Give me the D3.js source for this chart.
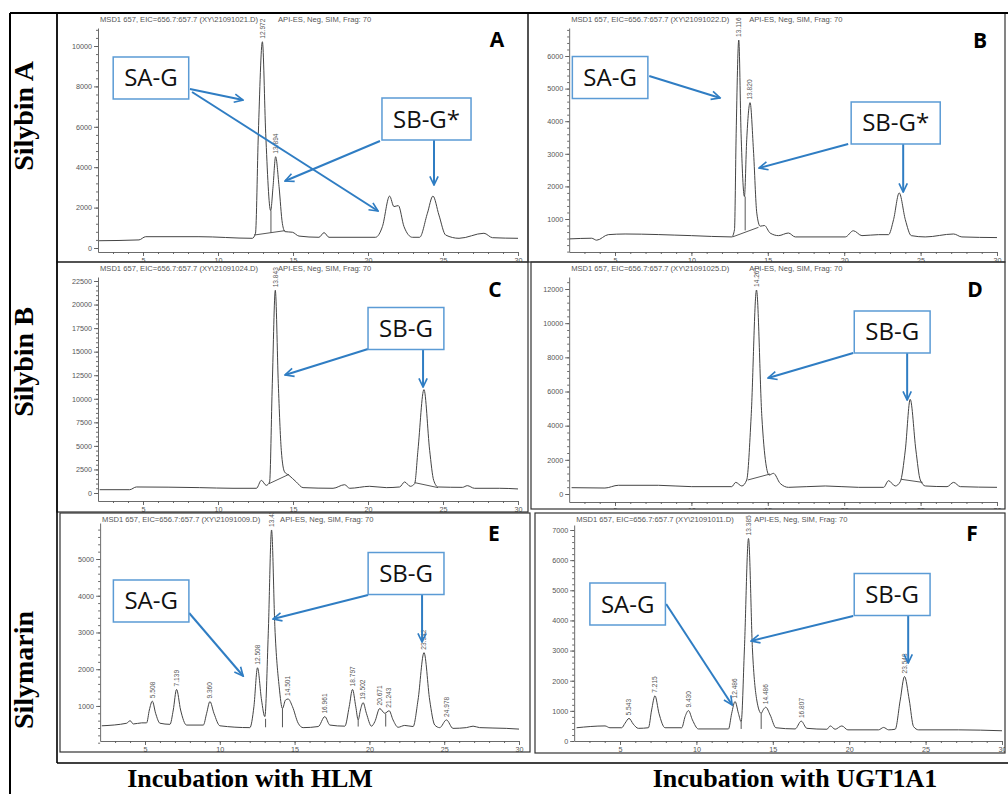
<!DOCTYPE html>
<meta charset="utf-8">
<script src="https://d3js.org/d3.v7.min.js"></script>
<style>
  body { margin: 0; background: #fff; }
</style>
<div id="chart"></div>
<script>

// ---------- data ----------
var xTicks = [5, 10, 15, 20, 25, 30];
var fileIds = ["21091021", "21091022", "21091024", "21091025", "21091009", "21091011"];
var panelLetters = ["A", "B", "C", "D", "E", "F"];
var rowLabels = ["Silybin A", "Silybin B", "Silymarin"];
var colLabels = ["Incubation with HLM", "Incubation with UGT1A1"];

var yTicksA = [0, 2000, 4000, 6000, 8000, 10000];
var yTicksB = [1000, 2000, 3000, 4000, 5000, 6000];
var yTicksC = [0, 2500, 5000, 7500, 10000, 12500, 15000, 17500, 20000, 22500];
var yTicksD = [0, 2000, 4000, 6000, 8000, 10000, 12000];
var yTicksE = [1000, 2000, 3000, 4000, 5000];
var yTicksF = [0, 1000, 2000, 3000, 4000, 5000, 6000, 7000];

// [retention time (min), abundance]
var traceA = [[2.07,360],[4.73,400],[5.18,560],[8.73,560],[12.29,480],[12.5,730],[12.69,5680],[12.96,10210],[13.18,5680],[13.51,1850],[13.67,3040],[13.84,4520],[14.07,3040],[14.29,1220],[14.47,810],[14.96,780],[15.4,590],[16.73,530],[17.07,760],[17.4,530],[20.5,530],[20.96,1060],[21.44,2570],[21.73,2050],[22.02,2100],[22.4,1060],[22.96,530],[23.44,530],[23.96,1720],[24.33,2570],[24.73,1630],[25.18,640],[26.07,480],[27.73,730],[28.3,510],[30,480]];
var traceB = [[2.05,390],[3.47,410],[3.8,350],[4.56,520],[5.66,540],[10,490],[12.64,450],[12.82,670],[12.93,3630],[13.1,6490],[13.25,3630],[13.47,1690],[13.62,3430],[13.84,4570],[14.06,3120],[14.28,1180],[14.5,780],[14.78,800],[15.15,570],[15.7,490],[16.35,570],[16.8,450],[20.07,450],[20.6,640],[21.16,490],[22.25,520],[22.9,520],[23.23,980],[23.6,1800],[24,980],[24.39,490],[25.3,450],[27.16,540],[27.7,450],[30,430]];
var traceC = [[2.11,350],[4.11,350],[4.56,640],[8.78,570],[11,500],[12.56,500],[12.89,1340],[13.22,810],[13.44,1170],[13.62,11600],[13.82,21510],[14.02,11600],[14.22,4530],[14.44,2230],[14.73,1880],[15.22,1170],[15.67,570],[17.67,500],[18.44,880],[18.78,500],[20.11,710],[21.22,570],[22.11,640],[22.44,1170],[22.82,710],[23.11,990],[23.33,4530],[23.73,10970],[24.11,4530],[24.38,1340],[24.67,640],[26.3,600],[26.62,780],[27.1,500],[28.78,500],[30,430]];
var traceD = [[2.16,370],[4.34,350],[5.22,510],[7.84,510],[10.02,430],[12.64,430],[12.9,680],[13.3,470],[13.62,820],[13.91,4530],[14.26,11940],[14.61,4530],[14.87,1800],[15.09,1110],[15.37,1210],[15.81,620],[16.35,390],[18.76,470],[20.94,390],[22.58,390],[22.9,780],[23.34,470],[23.67,720],[24,2580],[24.32,5540],[24.69,2580],[24.98,820],[25.31,470],[26.73,430],[27.16,680],[27.6,430],[30,390]];
var traceE = [[2.11,460],[3.78,530],[4,600],[4.22,510],[4.78,540],[5.11,540],[5.29,890],[5.49,1130],[5.71,800],[6,530],[6.67,500],[6.89,890],[7.11,1450],[7.38,890],[7.78,480],[8.9,480],[9.12,800],[9.34,1120],[9.61,800],[10.01,460],[12.01,410],[12.28,980],[12.52,2040],[12.79,1160],[13.01,710],[13.24,2980],[13.46,5790],[13.68,3160],[13.97,1520],[14.19,930],[14.39,1160],[14.57,1190],[14.86,980],[15.24,530],[15.57,410],[16.58,440],[17.02,710],[17.36,480],[18.36,450],[18.65,980],[18.87,1450],[19.09,980],[19.25,620],[19.4,890],[19.58,1090],[19.8,800],[20.14,450],[20.36,570],[20.69,930],[21.03,800],[21.32,870],[21.58,620],[21.92,420],[22.36,470],[22.92,440],[23.25,1160],[23.65,2450],[24.03,1160],[24.37,480],[24.7,410],[25.15,620],[25.59,390],[26.48,410],[26.93,450],[27.37,410],[29.15,390],[30,370]];
var traceF = [[2.16,440],[4.02,500],[4.34,440],[5.11,440],[5.33,590],[5.59,750],[5.87,560],[6.2,420],[6.86,440],[7.07,1030],[7.29,1500],[7.55,920],[7.95,440],[9.04,440],[9.26,810],[9.48,1010],[9.74,700],[10.13,400],[12.1,400],[12.31,920],[12.53,1310],[12.75,920],[12.93,640],[13.14,3020],[13.41,6720],[13.67,3020],[13.95,1360],[14.24,920],[14.39,1050],[14.54,1120],[14.83,860],[15.2,440],[16.46,400],[16.86,660],[17.23,420],[18.54,390],[18.76,500],[19.08,390],[19.52,500],[19.91,370],[21.92,370],[22.25,450],[22.58,370],[23.01,390],[23.34,1360],[23.62,2140],[23.93,1360],[24.21,480],[24.54,370],[27.16,370],[30,340]];

// peak labels: [time, apex abundance, label]
var peaksA = [[12.96,10210,"12.972"],[13.84,4520,"13.894"]];
var peaksB = [[13.1,6490,"13.116"],[13.84,4570,"13.820"]];
var peaksC = [[13.82,21510,"13.843"]];
var peaksD = [[14.26,11940,"14.261"]];
var peaksE = [[5.49,1130,"5.508"],[7.11,1450,"7.139"],[9.34,1120,"9.360"],[12.52,2040,"12.508"],[13.46,5790,"13.436"],[14.57,1190,"14.501"],[17.02,710,"16.961"],[18.87,1450,"18.797"],[19.58,1090,"19.502"],[20.69,930,"20.671"],[21.32,870,"21.243"],[23.65,2450,"23.542"],[25.15,620,"24.978"]];
var peaksF = [[5.59,750,"5.543"],[7.29,1500,"7.215"],[9.48,1010,"9.430"],[12.53,1310,"12.486"],[13.41,6720,"13.385"],[14.54,1120,"14.486"],[16.86,660,"16.807"],[23.62,2140,"23.548"]];

// integration marks: drops [t, top, bottom], baselines [t1, v1, t2, v2]
var dropsA = [[13.53,1850,760]];
var basesA = [[12.4,640,14.47,860]];
var dropsB = [[13.52,1690,650]];
var basesB = [[12.69,450,14.39,745]];
var dropsC = [];
var basesC = [[13.4,990,14.73,1980],[23.11,1100,24.67,570]];
var dropsD = [];
var basesD = [[13.69,820,15.15,1170],[23.73,860,25.13,680]];
var dropsE = [[13.06,650,420],[14.19,930,420],[19.25,620,440],[21.09,790,440]];
var basesE = [];
var dropsF = [[12.93,640,400],[14.24,920,400]];
var basesF = [];

// ---------- annotations (in data coordinates of each panel) ----------
var calloutsA = [["SA-G",5.53,8416],["SB-G*",23.9,6386]];
var arrowsA = [[8.13,7871,11.67,7327],[8.27,7723,20.67,1832],[20.8,5297,14.47,3317],[24.4,5347,24.4,3119]];
var calloutsB = [["SA-G",4.68,5340],["SB-G*",23.37,3945]];
var arrowsB = [[7.24,5387,11.88,4712],[20.26,3301,14.43,2564],[23.86,3301,23.86,1828]];
var calloutsC = [["SB-G",22.53,17459]];
var arrowsC = [[20.0,15283,14.47,12524],[23.67,15177,23.67,11250]];
var calloutsD = [["SB-G",23.14,9483]];
var arrowsD = [[20.59,8254,15.02,6790],[24.12,8254,24.12,5503]];
var calloutsE = [["SA-G",5.41,3857],["SB-G",22.45,4605]];
var arrowsE = [[7.95,3530,11.56,1815],[19.91,4020,13.56,3367],[23.52,4020,23.52,2741]];
var calloutsF = [["SA-G",5.5,4545],["SB-G",22.81,4860]];
var arrowsF = [[8.02,4545,12.34,1194],[20.26,4147,13.58,3318],[23.86,4147,23.86,2588]];

// ---------- layout ----------
var width = 1008, height = 794;
var blue = "#2f7dc3", boxBlue = "#5b9bd5", ink = "#444", axisGrey = "#5a5a5a";
var sans = "'Liberation Sans', Arial, sans-serif";
var office = "'Open Sans', 'Noto Sans', sans-serif";
var serif = "'Liberation Serif', 'Times New Roman', serif";

// frame [x0,y0,x1,y1], pixel pos of t=5 and t=30, pixel of 0 and top tick, axis line y, axis top y
var panels = [
  {trace: traceA, yTicks: yTicksA, peaks: peaksA, drops: dropsA, bases: basesA, callouts: calloutsA, arrows: arrowsA,
   frame: [57,13,528,262], xPx: [143,518], yPx: [248,46], axisY: 252, yTop: 28, minor: 400, letter: [497,47]},
  {trace: traceB, yTicks: yTicksB, peaks: peaksB, drops: dropsB, bases: basesB, callouts: calloutsB, arrows: arrowsB,
   frame: [528,13,1005,262], xPx: [615,997], yPx: [251.6,56], axisY: 252, yTop: 28, minor: 200, letter: [980,48]},
  {trace: traceC, yTicks: yTicksC, peaks: peaksC, drops: dropsC, bases: basesC, callouts: calloutsC, arrows: arrowsC,
   frame: [57,262,528,512], xPx: [143,518], yPx: [493,281], axisY: 501, yTop: 277, minor: 500, letter: [495,297]},
  {trace: traceD, yTicks: yTicksD, peaks: peaksD, drops: dropsD, bases: basesD, callouts: calloutsD, arrows: arrowsD,
   frame: [531,262,1005,509], xPx: [615,997], yPx: [494,289], axisY: 502, yTop: 277, minor: 400, letter: [975,297]},
  {trace: traceE, yTicks: yTicksE, peaks: peaksE, drops: dropsE, bases: basesE, callouts: calloutsE, arrows: arrowsE,
   frame: [60,513,530,752], xPx: [145,519], yPx: [742.7,559], axisY: 741, yTop: 523, minor: 200, letter: [494,541]},
  {trace: traceF, yTicks: yTicksF, peaks: peaksF, drops: dropsF, bases: basesF, callouts: calloutsF, arrows: arrowsF,
   frame: [535,513,1005,753], xPx: [620,1002], yPx: [741,530], axisY: 741, yTop: 525, minor: 200, letter: [972,541]}
];
var refTop = [10000, 6000, 22500, 12000, 5000, 7000];

var svg = d3.select("#chart")
  .append("svg")
  .attr("width", width)
  .attr("height", height);

var defs = svg.append("defs");
defs.append("marker")
  .attr("id", "head")
  .attr("viewBox", "0 0 12 12")
  .attr("refX", 10.5).attr("refY", 6)
  .attr("markerWidth", 11).attr("markerHeight", 11)
  .attr("markerUnits", "userSpaceOnUse")
  .attr("orient", "auto")
  .append("path")
  .attr("d", "M1,1.5 L10.5,6 L1,10.5")
  .attr("fill", "none")
  .attr("stroke", blue)
  .attr("stroke-width", 1.8);

panels.forEach(function(p, i) {
  var f = p.frame;
  var x = d3.scaleLinear().domain([5, 30]).range(p.xPx);
  var y = d3.scaleLinear().domain([0, refTop[i]]).range(p.yPx);
  var xAx = x.copy().domain([2, 30]).range([x(2), x(30)]);
  var yAx = y.copy().domain([y.invert(p.axisY), y.invert(p.yTop)]).range([p.axisY, p.yTop]);

  defs.append("clipPath").attr("id", "clip" + i)
    .append("rect")
    .attr("x", f[0]).attr("y", f[1])
    .attr("width", f[2] - f[0]).attr("height", f[3] - f[1]);

  var g = svg.append("g").attr("clip-path", "url(#clip" + i + ")");

  // header line of the instrument printout
  g.append("text")
    .attr("x", x(2) + 2).attr("y", f[1] + 8.5)
    .attr("font-family", sans).attr("font-size", 7.6).attr("fill", "#555")
    .text("MSD1 657, EIC=656.7:657.7 (XY\\" + fileIds[i] + ".D)");
  g.append("text")
    .attr("x", x(2) + 180).attr("y", f[1] + 8.5)
    .attr("font-family", sans).attr("font-size", 7.6).attr("fill", "#555")
    .text("API-ES, Neg, SIM, Frag: 70");

  // axes
  g.append("g")
    .attr("transform", "translate(" + x(2) + ",0)")
    .call(d3.axisLeft(yAx).tickValues(p.yTicks).tickSize(4).tickSizeOuter(0).tickPadding(2).tickFormat(d3.format("d")));
  g.append("g")
    .attr("transform", "translate(" + x(2) + ",0)")
    .call(d3.axisLeft(yAx).tickValues(d3.range(0, yAx.domain()[1], p.minor)).tickSize(2).tickSizeOuter(0).tickFormat(""))
    .select(".domain").remove();
  g.append("g")
    .attr("transform", "translate(0," + p.axisY + ")")
    .call(d3.axisBottom(xAx).tickValues(xTicks).tickSize(4).tickSizeOuter(0).tickPadding(2));
  g.append("g")
    .attr("transform", "translate(0," + p.axisY + ")")
    .call(d3.axisBottom(xAx).tickValues(d3.range(3, 30, 1)).tickSize(2).tickSizeOuter(0).tickFormat(""))
    .select(".domain").remove();
  g.selectAll(".domain, .tick line").attr("stroke", axisGrey).attr("stroke-width", 0.9);
  g.selectAll(".tick text").attr("fill", "#555").attr("font-family", sans).attr("font-size", 7.2);

  // integration marks
  g.selectAll(".drop").data(p.drops).enter().append("line")
    .attr("x1", function(d) { return x(d[0]); }).attr("x2", function(d) { return x(d[0]); })
    .attr("y1", function(d) { return y(d[1]); }).attr("y2", function(d) { return y(d[2]); })
    .attr("stroke", ink).attr("stroke-width", 0.9);
  g.selectAll(".base").data(p.bases).enter().append("line")
    .attr("x1", function(d) { return x(d[0]); }).attr("y1", function(d) { return y(d[1]); })
    .attr("x2", function(d) { return x(d[2]); }).attr("y2", function(d) { return y(d[3]); })
    .attr("stroke", ink).attr("stroke-width", 0.9);

  // chromatogram
  g.append("path")
    .datum(p.trace)
    .attr("fill", "none")
    .attr("stroke", ink)
    .attr("stroke-width", 1)
    .attr("d", d3.line()
      .x(function(d) { return x(d[0]); })
      .y(function(d) { return y(d[1]); })
      .curve(d3.curveMonotoneX));

  // retention-time labels
  g.selectAll(".peak").data(p.peaks).enter().append("text")
    .attr("transform", function(d) { return "translate(" + (x(d[0]) + 2.3) + "," + (y(d[1]) - 3) + ") rotate(-90)"; })
    .attr("font-family", sans).attr("font-size", 6.6).attr("fill", "#555")
    .text(function(d) { return d[2]; });

  // frame
  svg.append("rect")
    .attr("x", f[0]).attr("y", f[1])
    .attr("width", f[2] - f[0]).attr("height", f[3] - f[1])
    .attr("fill", "none").attr("stroke", "#333").attr("stroke-width", 1.2);

  // callouts
  var a = svg.append("g");
  a.selectAll(".arrow").data(p.arrows).enter().append("line")
    .attr("x1", function(d) { return x(d[0]); }).attr("y1", function(d) { return y(d[1]); })
    .attr("x2", function(d) { return x(d[2]); }).attr("y2", function(d) { return y(d[3]); })
    .attr("stroke", blue).attr("stroke-width", 2)
    .attr("marker-end", "url(#head)");

  p.callouts.forEach(function(c) {
    var cx = x(c[1]), cy = y(c[2]);
    var box = a.append("rect");
    var t = a.append("text")
      .attr("x", cx).attr("y", cy + 8.5)
      .attr("text-anchor", "middle")
      .attr("font-family", office).attr("font-size", 24).attr("fill", "#111")
      .text(c[0]);
    var w = t.node().getComputedTextLength() + 22;
    box.attr("x", cx - w / 2).attr("y", cy - 21)
      .attr("width", w).attr("height", 42)
      .attr("fill", "#fff").attr("stroke", boxBlue).attr("stroke-width", 1.5);
  });

  svg.append("text")
    .attr("x", p.letter[0]).attr("y", p.letter[1])
    .attr("text-anchor", "middle")
    .attr("font-family", office).attr("font-weight", "bold").attr("font-size", 21).attr("fill", "#000")
    .text(panelLetters[i]);
});

// figure border lines
svg.append("line").attr("x1", 10).attr("y1", 13).attr("x2", 1008).attr("y2", 13).attr("stroke", "#000").attr("stroke-width", 2);
svg.append("line").attr("x1", 10).attr("y1", 13).attr("x2", 10).attr("y2", 794).attr("stroke", "#000").attr("stroke-width", 2);
svg.append("line").attr("x1", 57).attr("y1", 13).attr("x2", 57).attr("y2", 763).attr("stroke", "#000").attr("stroke-width", 1.6);
svg.append("line").attr("x1", 57).attr("y1", 763).attr("x2", 1008).attr("y2", 763).attr("stroke", "#000").attr("stroke-width", 1.6);

// row labels
var rowY = [116, 362, 670];
svg.selectAll(".row").data(rowLabels).enter().append("text")
  .attr("transform", function(d, i) { return "translate(33," + rowY[i] + ") rotate(-90)"; })
  .attr("text-anchor", "middle")
  .attr("font-family", serif).attr("font-weight", "bold").attr("font-size", 28)
  .text(function(d) { return d; });

// column labels
var colX = [250, 795];
svg.selectAll(".col").data(colLabels).enter().append("text")
  .attr("x", function(d, i) { return colX[i]; })
  .attr("y", 787)
  .attr("text-anchor", "middle")
  .attr("font-family", serif).attr("font-weight", "bold").attr("font-size", 26)
  .text(function(d) { return d; });

</script>
